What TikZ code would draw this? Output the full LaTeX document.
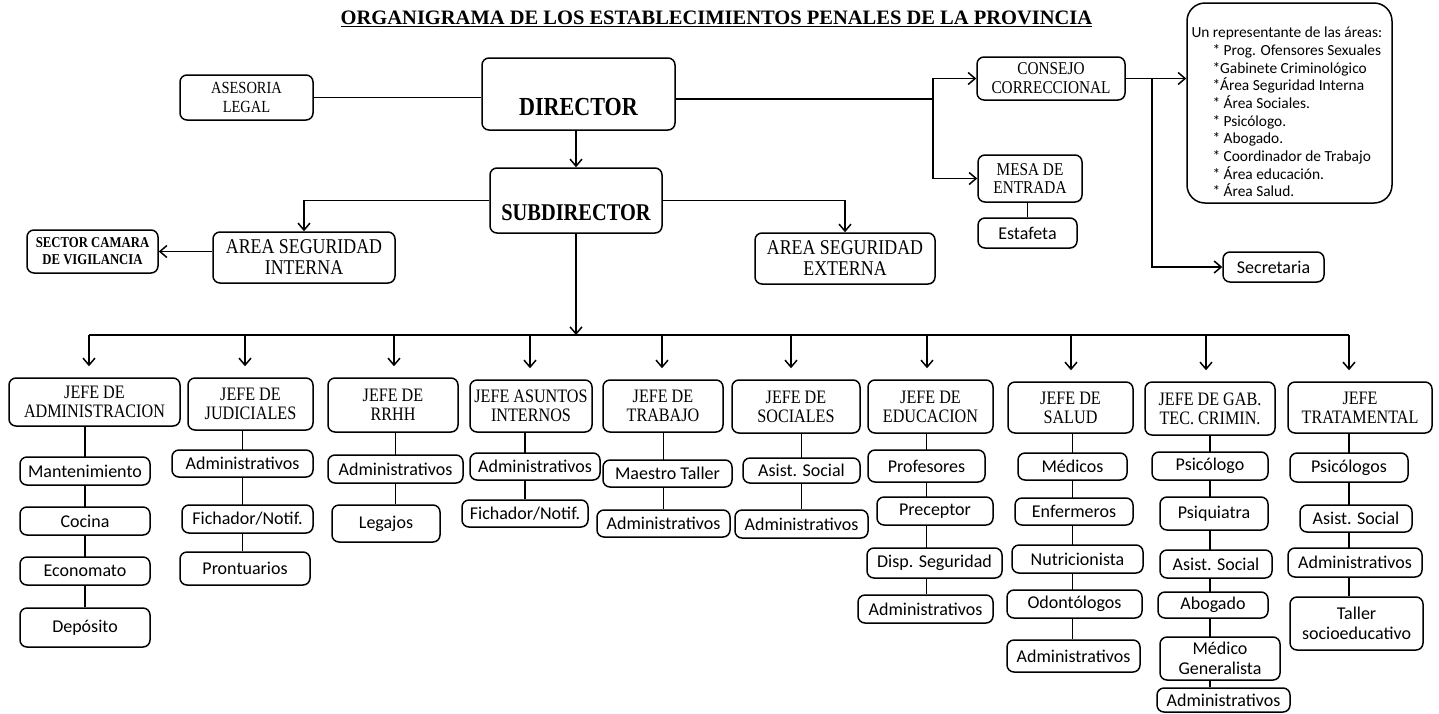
\documentclass[tikz,border=0pt]{standalone}
\usepackage{fontspec}
\setmainfont{Liberation Serif}
\newfontfamily\hd[FakeStretch=0.85]{Liberation Serif}
\newfontfamily\carl{Carlito}
\usetikzlibrary{arrows.meta,backgrounds}
\tikzset{
  box/.style={draw, line width=1.5pt, rounded corners=7pt, fill=white, inner sep=0pt, align=center},
  sz/.style 2 args={minimum width=#1pt, minimum height=#2pt},
  hdbox/.style={box, font=\hd\fontsize{19pt}{19pt}\selectfont},
  itbox/.style={box, font=\carl\fontsize{18pt}{20pt}\selectfont},
  conn/.style={line width=1.5pt},
  arr/.style={conn, -{Straight Barb[length=7pt,width=12pt]}},
}
\begin{document}
\begin{tikzpicture}[x=1pt,y=-1pt]
\begin{scope}[on background layer]
\fill[white] (0,0) rectangle (1439,713);
\end{scope}
\useasboundingbox (0,0) rectangle (1439,713);

% title
\node[font=\bfseries\fontsize{20.5pt}{22pt}\selectfont, inner sep=0pt] (title) at (716.5,19) {\underline{ORGANIGRAMA DE LOS ESTABLECIMIENTOS PENALES DE LA PROVINCIA}};

% top level
\node[hdbox, sz={133}{45}, font=\hd\fontsize{17pt}{19pt}\selectfont] (ases) at (246.5,97.5) {ASESORIA\\LEGAL};
\node[box, sz={193}{72}, font=\hd\bfseries\fontsize{26pt}{26pt}\selectfont, text height=43pt, text depth=0pt] (dir) at (578.5,94) {DIRECTOR};
\node[box, sz={172}{65}, font=\hd\bfseries\fontsize{24pt}{24pt}\selectfont, text height=39pt, text depth=0pt] (sub) at (576,200.5) {SUBDIRECTOR};
\node[hdbox, sz={148}{43}, font=\hd\fontsize{18pt}{19pt}\selectfont] (cons) at (1051,78.5) {CONSEJO\\CORRECCIONAL};
\node[hdbox, sz={104}{47}, font=\hd\fontsize{18pt}{18pt}\selectfont] (mesa) at (1030,178.5) {MESA DE\\ENTRADA};
\node[itbox, sz={99}{30}] (esta) at (1027.5,233) {Estafeta};
\node[itbox, sz={101}{30}] (secr) at (1273.5,267) {Secretaria};
\node[box, rounded corners=18pt, sz={205}{200}] (lst) at (1289.5,103) {%
  \begin{minipage}[c][200pt][t]{196pt}\carl\fontsize{15.4pt}{17.7pt}\selectfont\raggedright
  \vspace*{24pt}Un representante de las áreas:\\
  \hspace*{21pt}* Prog. Ofensores Sexuales\\
  \hspace*{21pt}*Gabinete Criminológico\\
  \hspace*{21pt}*Área Seguridad Interna\\
  \hspace*{21pt}* Área Sociales.\\
  \hspace*{21pt}* Psicólogo.\\
  \hspace*{21pt}* Abogado.\\
  \hspace*{21pt}* Coordinador de Trabajo\\
  \hspace*{21pt}* Área educación.\\
  \hspace*{21pt}* Área Salud.
  \end{minipage}};
\node[hdbox, sz={182}{51}, font=\hd\fontsize{21pt}{21pt}\selectfont] (asi) at (304,257.5) {AREA SEGURIDAD\\INTERNA};
\node[hdbox, sz={180}{51}, font=\hd\fontsize{21pt}{21pt}\selectfont] (ase) at (845,258.5) {AREA SEGURIDAD\\EXTERNA};
\node[hdbox, sz={131}{43}, font=\hd\bfseries\fontsize{15pt}{17pt}\selectfont] (sect) at (92.5,251.5) {SECTOR CAMARA\\DE VIGILANCIA};

% heads
\node[hdbox, sz={171}{48}] (adm) at (94.5,402) {JEFE DE\\ADMINISTRACION};
\node[hdbox, sz={125}{52}] (jud) at (250.5,404) {JEFE DE\\JUDICIALES};
\node[hdbox, sz={130}{54}] (rrhh) at (393,405) {JEFE DE\\RRHH};
\node[hdbox, sz={122}{52}] (asu) at (531,406) {JEFE ASUNTOS\\INTERNOS};
\node[hdbox, sz={120}{52}] (trab) at (663,406) {JEFE DE\\TRABAJO};
\node[hdbox, sz={128}{53}] (soc) at (796,406.5) {JEFE DE\\SOCIALES};
\node[hdbox, sz={125}{53}] (edu) at (930.5,406.5) {JEFE DE\\EDUCACION};
\node[hdbox, sz={125}{51}] (sal) at (1070.5,407.5) {JEFE DE\\SALUD};
\node[hdbox, sz={130}{53}] (gab) at (1210,408.5) {JEFE DE GAB.\\TEC. CRIMIN.};
\node[hdbox, sz={144}{51}] (tra) at (1360,407.5) {JEFE\\TRATAMENTAL};

% items
\node[itbox, sz={130}{28}] (a1) at (85,471) {Mantenimiento};
\node[itbox, sz={130}{28}] (a2) at (85,521) {Cocina};
\node[itbox, sz={130}{28}] (a3) at (85,571) {Economato};
\node[itbox, sz={130}{39}] (a4) at (85,627.5) {Depósito};

\node[itbox, sz={141}{27}] (j1) at (242.5,463.5) {Administrativos};
\node[itbox, sz={131}{28}] (j2) at (247.5,519) {Fichador/Notif.};
\node[itbox, sz={130}{33}] (j3) at (245,568.5) {Prontuarios};

\node[itbox, sz={135}{28}] (r1) at (395.5,469) {Administrativos};
\node[itbox, sz={108}{37}] (r2) at (386,523.5) {Legajos};

\node[itbox, sz={130}{27}] (s1) at (535,466.5) {Administrativos};
\node[itbox, sz={126}{27}] (s2) at (525,513.5) {Fichador/Notif.};

\node[itbox, sz={129}{27}] (t1) at (667.5,473.5) {Maestro Taller};
\node[itbox, sz={133}{27}] (t2) at (663.5,523.5) {Administrativos};

\node[itbox, sz={117}{25}] (o1) at (801.5,470.5) {Asist. Social};
\node[itbox, sz={133}{28}] (o2) at (801.5,524) {Administrativos};

\node[itbox, sz={117}{32}] (e1) at (926.5,466) {Profesores};
\node[itbox, sz={116}{28}] (e2) at (935,511) {Preceptor};
\node[itbox, sz={135}{30}] (e3) at (934.5,563) {Disp. Seguridad};
\node[itbox, sz={135}{28}] (e4) at (925.5,609) {Administrativos};

\node[itbox, sz={109}{27}] (h1) at (1072.5,466.5) {Médicos};
\node[itbox, sz={118}{27}] (h2) at (1074,511.5) {Enfermeros};
\node[itbox, sz={131}{28}] (h3) at (1077.5,559) {Nutricionista};
\node[itbox, sz={135}{28}] (h4) at (1074.5,604) {Odontólogos};
\node[itbox, sz={133}{32}] (h5) at (1073.5,656) {Administrativos};

\node[itbox, sz={116}{28}] (g1) at (1210,466) {Psicólogo};
\node[itbox, sz={108}{33}] (g2) at (1214,513.5) {Psiquiatra};
\node[itbox, sz={112}{28}] (g3) at (1216,564) {Asist. Social};
\node[itbox, sz={110}{26}] (g4) at (1213,605) {Abogado};
\node[itbox, sz={120}{43}] (g5) at (1220,658.5) {Médico\\Generalista};
\node[itbox, sz={133}{24}] (g6) at (1223.5,700) {Administrativos};

\node[itbox, sz={118}{29}] (m1) at (1349,467.5) {Psicólogos};
\node[itbox, sz={112}{27}] (m2) at (1356,518.5) {Asist. Social};
\node[itbox, sz={134}{29}] (m3) at (1355,562.5) {Administrativos};
\node[itbox, sz={133}{53}] (m4) at (1356.5,623.5) {Taller\\socioeducativo};

% coordinates
\coordinate (jd) at (933,99);
\coordinate (jc) at (1152,78.5);
\coordinate (bus) at (576,335);
\coordinate (d1) at (89,335);
\coordinate (d2) at (245,335);
\coordinate (d3) at (394,335);
\coordinate (d4) at (530,335);
\coordinate (d5) at (662,335);
\coordinate (d6) at (791,335);
\coordinate (d7) at (927,335);
\coordinate (d8) at (1071,335);
\coordinate (d9) at (1206,335);
\coordinate (d10) at (1349,335);

\begin{scope}[on background layer]
\draw[conn] (ases.east) -- (ases.east -| dir.west);
\draw[conn] (dir.east |- jd) -- (jd);
\draw[arr] (jd) |- (cons.west);
\draw[arr] (jd) |- (mesa.west);
\draw[arr] (cons.east) -- (cons.east -| lst.west);
\draw[arr] (jc) |- (secr.west);
\draw[conn] (esta.north) -- (esta.north |- mesa.south);
\draw[arr] (dir.south -| sub.north) -- (sub.north);
\draw[arr] (sub.west) -| (asi.north);
\draw[arr] (sub.east) -| (ase.north);
\draw[arr] (asi.west |- sect.east) -- (sect.east);
\draw[arr] (sub.south) -- (bus);
\draw[conn] (d1) -- (d10);
\foreach \d/\h in {d1/adm,d2/jud,d3/rrhh,d4/asu,d5/trab,d6/soc,d7/edu,d8/sal,d9/gab,d10/tra}
  \draw[arr, shorten >=11pt] (\d) -- (\d |- \h.north);
% columns
\draw[conn] (adm.south -| a1) -- (a4.north);
\draw[conn] (jud.south -| j1) -- (j1 |- j3.north);
\draw[conn] (rrhh.south -| r1) -- (r1 |- r2.north);
\draw[conn] (asu.south -| s2) -- (s2.north);
\draw[conn] (trab.south -| t2) -- (t2.north);
\draw[conn] (soc.south -| o2) -- (o2.north);
\draw[conn] (edu.south -| e1) -- (e1 |- e4.north);
\draw[conn] (sal.south -| h1) -- (h1 |- h5.north);
\draw[conn] (gab.south -| g1) -- (g1 |- g6.north);
\draw[conn] (tra.south -| m1) -- (m1 |- m4.north);
\end{scope}
\end{tikzpicture}
\end{document}
